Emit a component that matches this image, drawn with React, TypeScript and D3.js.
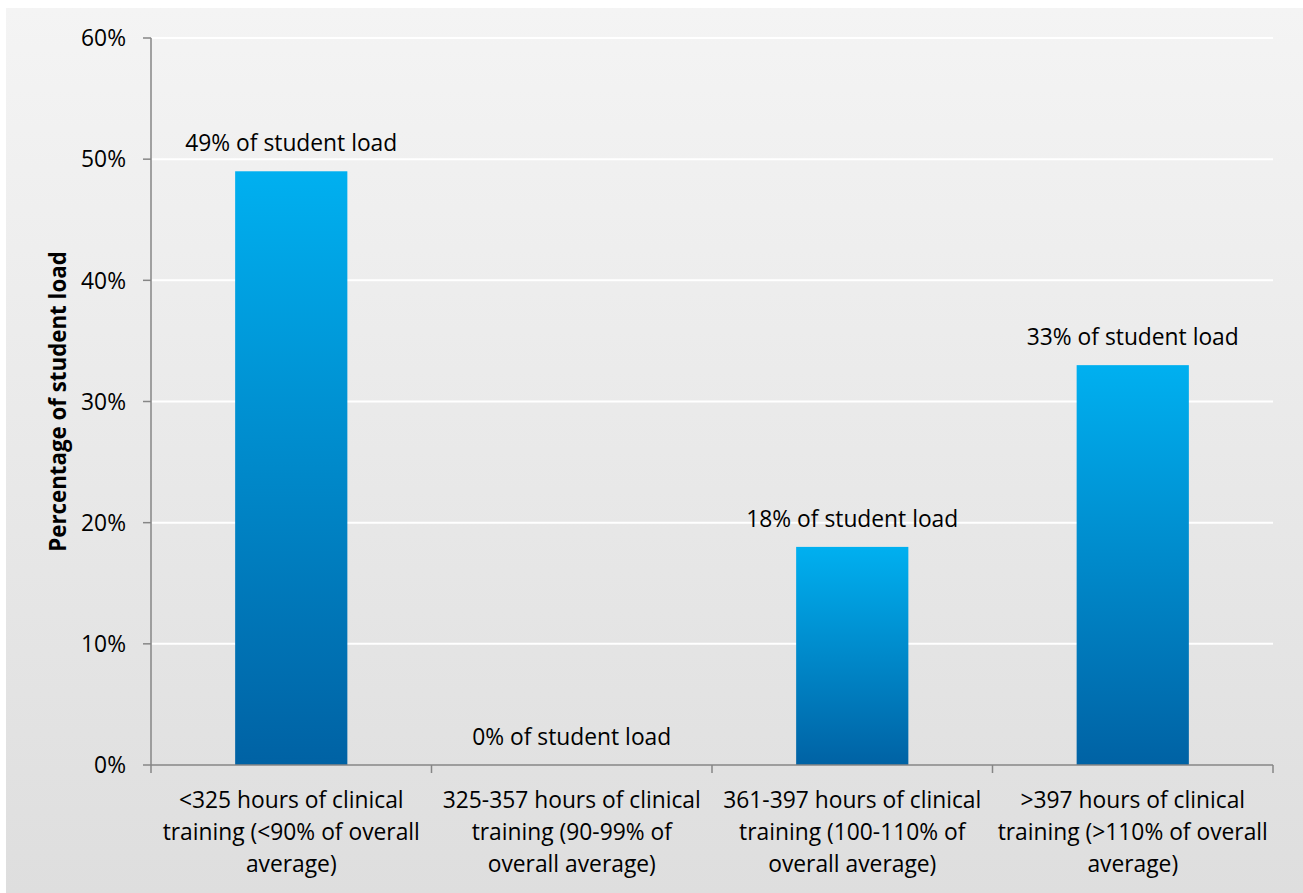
import React from "react";
import * as d3 from "d3";

// Share of student load by clinical-training hours band
const categories: string[][] = [
  ["<325 hours of clinical", "training (<90% of overall", "average)"],
  ["325-357 hours of clinical", "training (90-99% of", "overall average)"],
  ["361-397 hours of clinical", "training (100-110% of", "overall average)"],
  [">397 hours of clinical", "training (>110% of overall", "average)"],
];
const values: number[] = [0.49, 0, 0.18, 0.33];
const dataLabels: string[] = [
  "49% of student load",
  "0% of student load",
  "18% of student load",
  "33% of student load",
];
const yTicks: number[] = [0, 0.1, 0.2, 0.3, 0.4, 0.5, 0.6];
const yTitle = "Percentage of student load";

const W = 1303;
const H = 893;
const plot = { left: 151, right: 1273, top: 38, bottom: 765 };
const FONT = "'Open Sans', 'Noto Sans', sans-serif";
const FS = 22.8;

export default function App() {
  const x = d3
    .scaleBand<number>()
    .domain(d3.range(categories.length))
    .range([plot.left, plot.right])
    .paddingInner(0.6)
    .paddingOuter(0.3);
  const band = d3
    .scaleBand<number>()
    .domain(d3.range(categories.length))
    .range([plot.left, plot.right]);
  const y = d3.scaleLinear().domain([0, 0.6]).range([plot.bottom, plot.top]);
  const fmt = d3.format(".0%");
  const axisColor = "#868686";

  return (
    <svg
      width={W}
      height={H}
      style={{ position: "absolute", left: 0, top: 0, display: "block" }}
      fontFamily={FONT}
    >
      <defs>
        <linearGradient id="bg" x1="0" y1="0" x2="0" y2="1">
          <stop offset="0" stopColor="#f4f4f4" />
          <stop offset="1" stopColor="#dedede" />
        </linearGradient>
        <linearGradient id="bar" x1="0" y1="0" x2="0" y2="1">
          <stop offset="0" stopColor="#00b0f0" />
          <stop offset="1" stopColor="#0062a4" />
        </linearGradient>
      </defs>
      <rect x={0} y={0} width={W} height={H} fill="#ffffff" />
      <rect x={6} y={8} width={W - 6} height={H - 8} fill="url(#bg)" />

      {/* horizontal gridlines */}
      {yTicks.slice(1).map((t) => (
        <line
          key={"g" + t}
          x1={plot.left + 1}
          x2={plot.right}
          y1={y(t)}
          y2={y(t)}
          stroke="#ffffff"
          strokeWidth={2}
        />
      ))}

      {/* bars */}
      {values.map((v, i) =>
        v > 0 ? (
          <rect
            key={"b" + i}
            x={x(i)!}
            y={y(v)}
            width={x.bandwidth()}
            height={y(0) - y(v)}
            fill="url(#bar)"
          />
        ) : null
      )}

      {/* value labels */}
      {values.map((v, i) => (
        <text
          key={"l" + i}
          x={band(i)! + band.bandwidth() / 2}
          y={y(v) - 20}
          textAnchor="middle"
          fontSize={FS}
          fill="#000"
        >
          {dataLabels[i]}
        </text>
      ))}

      {/* y axis */}
      <line x1={plot.left} x2={plot.left} y1={plot.top} y2={plot.bottom} stroke={axisColor} strokeWidth={1.5} />
      {yTicks.map((t) => (
        <g key={"y" + t}>
          <line x1={plot.left - 8} x2={plot.left} y1={y(t)} y2={y(t)} stroke={axisColor} strokeWidth={1.5} />
          <text x={plot.left - 25} y={y(t)} dy="0.36em" textAnchor="end" fontSize={FS} fill="#000">
            {fmt(t)}
          </text>
        </g>
      ))}
      <text
        transform={`translate(66, ${(plot.top + plot.bottom) / 2}) rotate(-90)`}
        textAnchor="middle"
        fontSize={22.3}
        fontWeight="bold"
        fill="#000"
      >
        {yTitle}
      </text>

      {/* x axis */}
      <line x1={plot.left} x2={plot.right} y1={plot.bottom} y2={plot.bottom} stroke={axisColor} strokeWidth={1.5} />
      {d3.range(categories.length + 1).map((i) => {
        const px = plot.left + i * band.bandwidth();
        return (
          <line key={"xt" + i} x1={px} x2={px} y1={plot.bottom} y2={plot.bottom + 8} stroke={axisColor} strokeWidth={1.5} />
        );
      })}
      {categories.map((lines, i) => (
        <text
          key={"c" + i}
          x={band(i)! + band.bandwidth() / 2}
          y={808}
          textAnchor="middle"
          fontSize={FS}
          fill="#000"
        >
          {lines.map((ln, j) => (
            <tspan key={j} x={band(i)! + band.bandwidth() / 2} dy={j === 0 ? 0 : 32}>
              {ln}
            </tspan>
          ))}
        </text>
      ))}
    </svg>
  );
}
